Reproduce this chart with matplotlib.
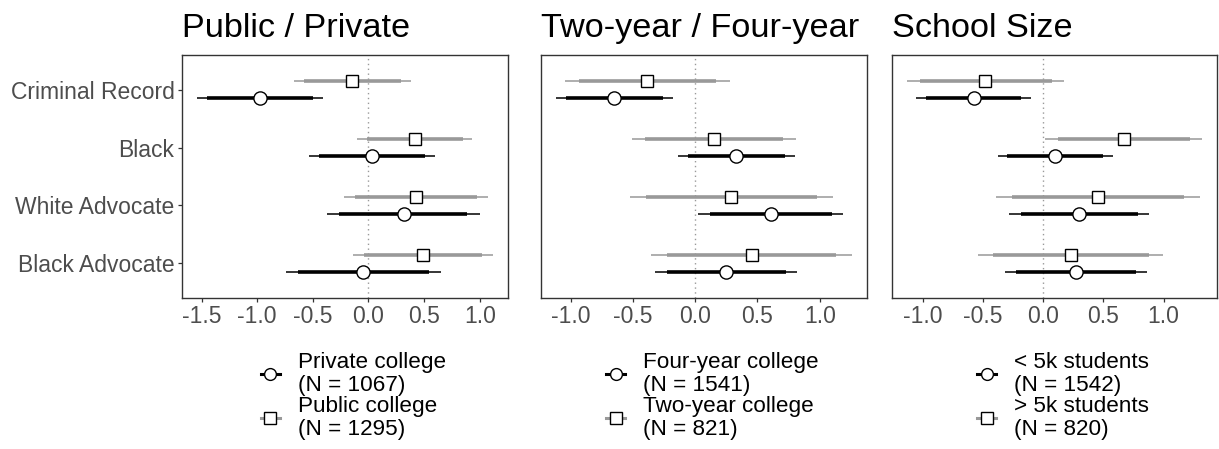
"""
Coefficient plot: three panels with 90% / 95% intervals per subgroup.
"""

import numpy as np
import matplotlib
matplotlib.use("Agg")
import matplotlib.pyplot as plt
from matplotlib.lines import Line2D

plt.rcParams['font.family'] = ['Liberation Sans', 'DejaVu Sans']

# Categories (top to bottom)
categories = ['Criminal Record', 'Black', 'White Advocate', 'Black Advocate']

# --- Panel 1: Public / Private ---
private_est = [-0.979, 0.030, 0.317, -0.045]
private_lo95 = [-1.545, -0.533, -0.377, -0.743]
private_hi95 = [-0.407, 0.602, 1.003, 0.656]
private_lo90 = [-1.449, -0.443, -0.263, -0.629]
private_hi90 = [-0.503, 0.509, 0.889, 0.542]

public_est = [-0.144, 0.416, 0.425, 0.491]
public_lo95 = [-0.668, -0.102, -0.222, -0.141]
public_hi95 = [0.383, 0.934, 1.078, 1.123]
public_lo90 = [-0.578, -0.015, -0.117, -0.036]
public_hi90 = [0.296, 0.853, 0.973, 1.021]

# --- Panel 2: Two-year / Four-year ---
four_est = [-0.649, 0.331, 0.606, 0.248]
four_lo95 = [-1.119, -0.136, 0.021, -0.323]
four_hi95 = [-0.179, 0.798, 1.188, 0.817]
four_lo90 = [-1.041, -0.059, 0.115, -0.230]
four_hi90 = [-0.256, 0.721, 1.095, 0.726]

two_est = [-0.385, 0.150, 0.288, 0.454]
two_lo95 = [-1.044, -0.505, -0.526, -0.352]
two_hi95 = [0.278, 0.809, 1.105, 1.258]
two_lo90 = [-0.935, -0.401, -0.395, -0.224]
two_hi90 = [0.171, 0.702, 0.975, 1.132]

# --- Panel 3: School Size ---
small_est = [-0.579, 0.099, 0.298, 0.273]
small_lo95 = [-1.057, -0.378, -0.281, -0.320]
small_hi95 = [-0.102, 0.577, 0.880, 0.866]
small_lo90 = [-0.977, -0.298, -0.188, -0.223]
small_hi90 = [-0.182, 0.499, 0.786, 0.772]

large_est = [-0.480, 0.670, 0.452, 0.229]
large_lo95 = [-1.131, 0.014, -0.392, -0.541]
large_hi95 = [0.171, 1.321, 1.299, 0.999]
large_lo90 = [-1.026, 0.121, -0.257, -0.419]
large_hi90 = [0.069, 1.217, 1.170, 0.877]

titles = ['Public / Private', 'Two-year / Four-year', 'School Size']
circle_labels = ['Private college\n(N = 1067)', 'Four-year college\n(N = 1541)',
                 '< 5k students\n(N = 1542)']
square_labels = ['Public college\n(N = 1295)', 'Two-year college\n(N = 821)',
                 '> 5k students\n(N = 820)']

BLACK = 'black'
GREY = '#999999'
FRAME = '#333333'
TICKTXT = '#4d4d4d'


def draw_series(ax, y, est, lo95, hi95, lo90, hi90, color, marker):
    """Thin line = 95%, thick line = 90%, marker = estimate"""
    ax.hlines(y, lo95, hi95, color=color, lw=1.1, zorder=2)
    ax.hlines(y, lo90, hi90, color=color, lw=2.6, zorder=3)
    ax.plot(est, y, linestyle='none', marker=marker, ms=9.5 if marker == 'o' else 9,
            mfc='white', mec='black', mew=1.0, zorder=4)


def main():
    fig = plt.figure(figsize=(12.19, 4.49), dpi=100)

    panels = [
        ((private_est, private_lo95, private_hi95, private_lo90, private_hi90),
         (public_est, public_lo95, public_hi95, public_lo90, public_hi90)),
        ((four_est, four_lo95, four_hi95, four_lo90, four_hi90),
         (two_est, two_lo95, two_hi95, two_lo90, two_hi90)),
        ((small_est, small_lo95, small_hi95, small_lo90, small_hi90),
         (large_est, large_lo95, large_hi95, large_lo90, large_hi90)),
    ]

    lefts = [181.7, 541.0, 892.3]
    rights = [508.3, 866.7, 1217.0]
    top_px, bottom_px = 55.0, 298.0
    W, H = 1219.0, 449.0
    legend_x = [260.7, 606.2, 977.2]

    pos = np.arange(len(categories), 0, -1)  # Criminal Record on top

    for i, (circ, sq) in enumerate(panels):
        ax = fig.add_axes([lefts[i] / W, 1 - bottom_px / H,
                           (rights[i] - lefts[i]) / W, (bottom_px - top_px) / H])
        ax.axvline(0, color=GREY, lw=1.0, ls=(0, (1, 2.5)), zorder=1)
        draw_series(ax, pos + 0.15, *sq, GREY, 's')
        draw_series(ax, pos - 0.15, *circ, BLACK, 'o')

        lo = min(min(circ[1]), min(sq[1]))
        hi = max(max(circ[2]), max(sq[2]))
        pad = 0.05 * (hi - lo)
        ax.set_xlim(lo - pad, hi + pad)
        ax.set_ylim(0.4, len(categories) + 0.6)

        ticks = np.arange(-1.5, 1.01, 0.5)
        ticks = ticks[(ticks >= lo - pad) & (ticks <= hi + pad)]
        ax.set_xticks(ticks)
        ax.set_xticklabels([f'{t:.1f}' for t in ticks])

        ax.set_yticks(pos)
        if i == 0:
            ax.set_yticklabels(categories)
        else:
            ax.set_yticklabels([])
            ax.tick_params(axis='y', left=False)

        ax.tick_params(axis='both', labelsize=16.5, colors=FRAME, labelcolor=TICKTXT,
                       length=3.2, width=0.9, pad=2)
        for s in ax.spines.values():
            s.set_color(FRAME)
            s.set_linewidth(1.0)

        ax.set_title(titles[i], loc='left', fontsize=24.7, pad=13)

        handles = [
            Line2D([0], [0], color=BLACK, lw=2.2, marker='o', ms=8.5,
                   mfc='white', mec='black', mew=1.0),
            Line2D([0], [0], color=GREY, lw=2.2, marker='s', ms=8,
                   mfc='white', mec='black', mew=1.0),
        ]
        leg = fig.legend(handles, [circle_labels[i], square_labels[i]],
                         loc='upper left', bbox_to_anchor=(legend_x[i] / W, 1 - 352 / H),
                         frameon=False, fontsize=16.2, handlelength=0.85,
                         handletextpad=0.8, labelspacing=0.0, borderpad=0,
                         borderaxespad=0)
        for t in leg.get_texts():
            t.set_linespacing(1.12)

    plt.savefig('out.png', dpi=100)
    plt.close()


if __name__ == "__main__":
    main()
